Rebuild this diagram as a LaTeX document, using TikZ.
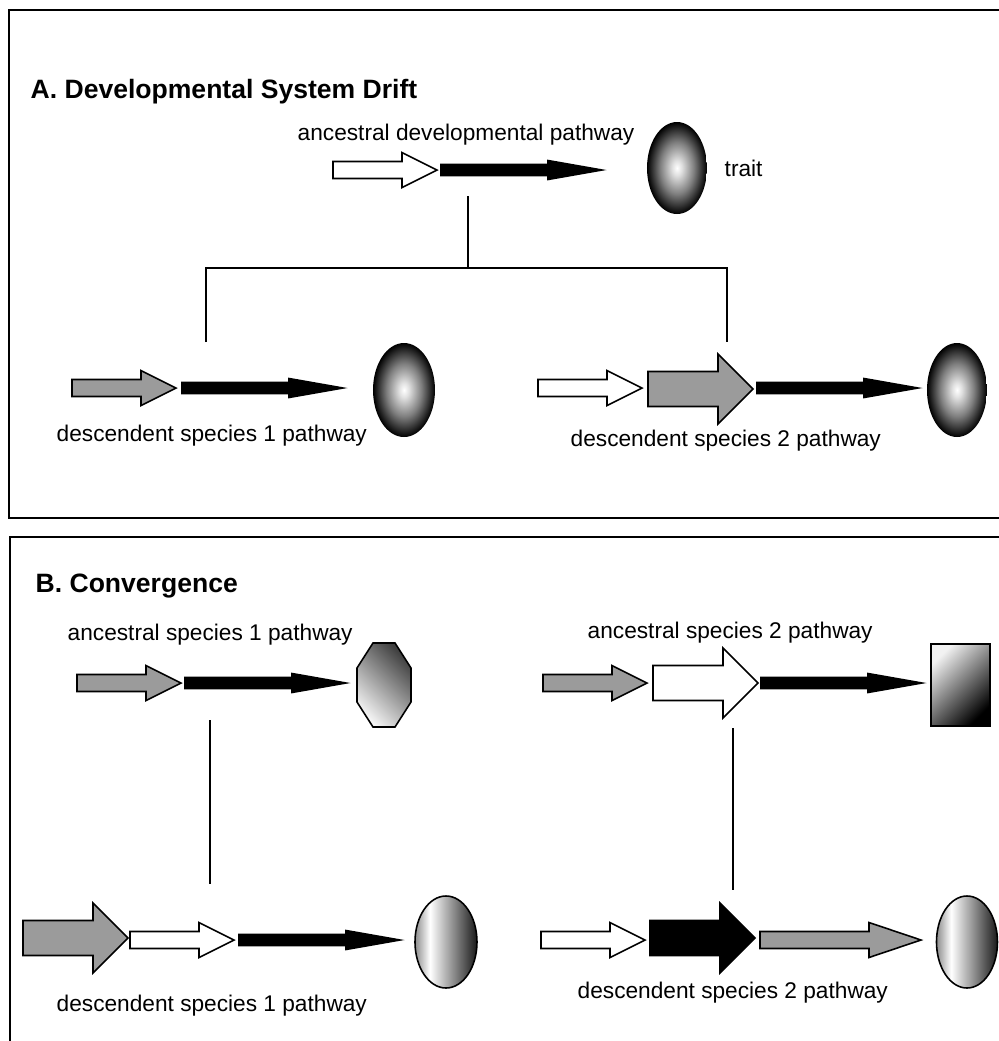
\documentclass[tikz,border=0pt]{standalone}
\usepackage{fontspec}
\setmainfont{Liberation Sans}

\pgfdeclarehorizontalshading{sidelit}{100bp}{color(0bp)=(black!45); color(25bp)=(black!45); color(37bp)=(white); color(75bp)=(black!90); color(100bp)=(black!90)}
\pgfdeclareradialshading{glow}{\pgfpoint{0bp}{0bp}}{color(0bp)=(white); color(4bp)=(black!12); color(14bp)=(black!50); color(25bp)=(black); color(50bp)=(black)}

% block arrow: start point, length, shaft half width, head length, head half width
\newcommand{\pathway}[6][]{%
  \draw[#1] #2 ++(0,#4) -- ++({#3-#5},0) -- ++(0,{#6-#4}) -- ++(#5,-#6)
    -- ++(-#5,-#6) -- ++(0,{#6-#4}) -- ++({#5-#3},0) -- cycle;}

\begin{document}
\begin{tikzpicture}[x=0.01cm, y=-0.01cm,
  pathlabel/.style={inner sep=0, anchor=base west, font=\fontsize{6.45pt}{8pt}\selectfont},
  paneltitle/.style={inner sep=0, anchor=base west, font=\bfseries\fontsize{7.55pt}{9pt}\selectfont},
  frame/.style={line width=0.65pt},
  branch/.style={line width=0.45pt},
  wfill/.style={draw=black, fill=white, line width=0.45pt},
  gfill/.style={draw=black, fill=arrowgrey, line width=0.45pt},
  bfill/.style={draw=black, fill=black, line width=0.45pt}]
  \definecolor{arrowgrey}{RGB}{155,155,155}
  \useasboundingbox (0,0) rectangle (999,1041);
  \clip (0,0) rectangle (999,1041);

  % panel frames
  \draw[frame] (1010,10) -- (9,10) -- (9,518) -- (1010,518);
  \draw[frame] (1010,537) -- (10,537) -- (10,1050);

  % A: ancestral pathway
  \node[paneltitle] (titleA) at (30,98) {A. Developmental System Drift};
  \node[pathlabel] (ancdev) at (297,140) {ancestral developmental pathway};
  \pathway[wfill]{(333,170)}{104}{8.5}{35}{17.5}
  \pathway[bfill]{(441,170)}{161}{5.5}{54}{9.5}
  \shade[shading=glow] (677,168) ellipse [x radius=30, y radius=46];
  \node[pathlabel] (trait) at (724,176) {trait};

  % A: tree
  \coordinate (ancfork) at (468,196);
  \coordinate (split) at (468,268);
  \coordinate (desc1top) at (206,342);
  \coordinate (desc2top) at (727,342);
  \draw[branch] (ancfork) -- (split);
  \draw[branch] (desc1top) |- (split) -| (desc2top);

  % A: descendent pathways
  \pathway[gfill]{(72,388)}{104}{8.5}{35}{17.5}
  \pathway[bfill]{(182,388)}{161}{5.5}{54}{9.5}
  \shade[shading=glow] (404,390) ellipse [x radius=31, y radius=47];
  \node[pathlabel] (descA1) at (56,441) {descendent species 1 pathway};

  \pathway[wfill]{(538,388)}{104}{8.5}{35}{17.5}
  \pathway[gfill]{(648,389)}{105}{17.5}{35}{35}
  \pathway[bfill]{(757,388)}{161}{5.5}{54}{9.5}
  \shade[shading=glow] (957,390) ellipse [x radius=30, y radius=47];
  \node[pathlabel] (descA2) at (570,446) {descendent species 2 pathway};

  % B: ancestral pathways
  \node[paneltitle] (titleB) at (35,592) {B. Convergence};
  \node[pathlabel] (ancsp1) at (67,640) {ancestral species 1 pathway};
  \node[pathlabel] (ancsp2) at (587,638) {ancestral species 2 pathway};

  \pathway[gfill]{(77,683)}{104}{8.5}{35}{17.5}
  \pathway[bfill]{(185,683)}{161}{5.5}{54}{9.5}
  \shadedraw[top color=black!75, bottom color=black!4, shading angle=-45, draw=black, line width=0.45pt]
    (373,643) -- (395,643) -- (411,668) -- (411,702) -- (395,727) -- (373,727) -- (357,702) -- (357,668) -- cycle;

  \pathway[gfill]{(543,683)}{104}{8.5}{35}{17.5}
  \pathway[wfill]{(653,683)}{105}{17.5}{35}{35}
  \pathway[bfill]{(761,683)}{161}{5.5}{54}{9.5}
  \shadedraw[top color=black!5, bottom color=black, shading angle=45, draw=black, line width=0.45pt]
    (931,644) rectangle (990,726);

  % B: species lines
  \coordinate (sp1up) at (210,720);
  \coordinate (sp1down) at (210,884);
  \coordinate (sp2up) at (733,728);
  \coordinate (sp2down) at (733,890);
  \draw[branch] (sp1up) -- (sp1down);
  \draw[branch] (sp2up) -- (sp2down);

  % B: descendent pathways
  \pathway[gfill]{(23,938)}{105}{17.5}{35}{35}
  \pathway[wfill]{(130,940)}{104}{8.5}{35}{17.5}
  \pathway[bfill]{(239,940)}{161}{5.5}{54}{9.5}
  \shadedraw[shading=sidelit, draw=black, line width=0.45pt] (446,942) ellipse [x radius=31, y radius=46];
  \node[pathlabel] (descB1) at (56,1011) {descendent species 1 pathway};

  \pathway[wfill]{(541,940)}{104}{8.5}{35}{17.5}
  \pathway[bfill]{(650,938)}{105}{17.5}{35}{35}
  \pathway[gfill]{(760,940)}{161}{8.5}{52}{17.5}
  \shadedraw[shading=sidelit, draw=black, line width=0.45pt] (967,942) ellipse [x radius=30.5, y radius=46];
  \node[pathlabel] (descB2) at (577,998) {descendent species 2 pathway};
\end{tikzpicture}
\end{document}
